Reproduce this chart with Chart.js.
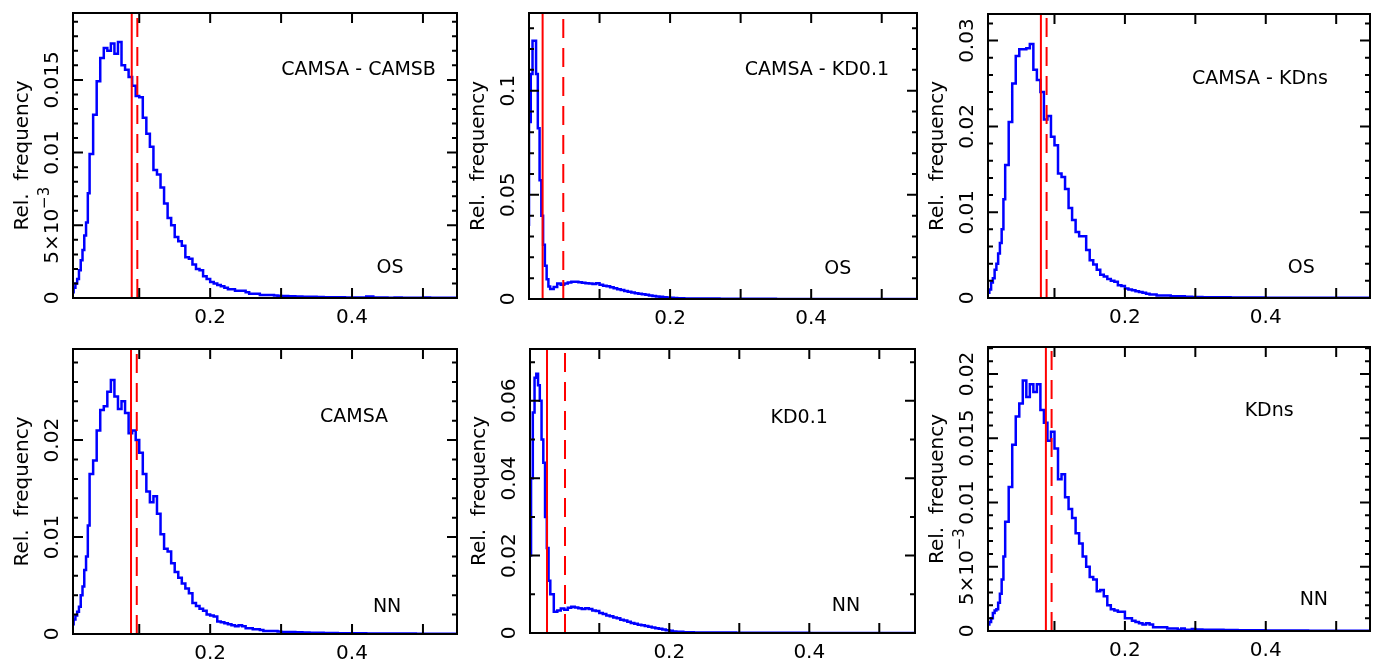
<!DOCTYPE html>
<html>
<head>
<meta charset="utf-8">
<script src="https://cdn.jsdelivr.net/npm/chart.js@4.4.1/dist/chart.umd.min.js"></script>
<style>
  body { margin: 0; background: #fff; }
  #wrap { position: relative; width: 1378px; height: 663px; overflow: hidden; }
  canvas { position: absolute; }
</style>
</head>
<body>
<div id="wrap">
  <canvas id="c1" width="460" height="332" style="left:0px;top:0px"></canvas>
  <canvas id="c2" width="460" height="332" style="left:459px;top:0px"></canvas>
  <canvas id="c3" width="460" height="332" style="left:918px;top:0px"></canvas>
  <canvas id="c4" width="460" height="332" style="left:0px;top:331px"></canvas>
  <canvas id="c5" width="460" height="332" style="left:459px;top:331px"></canvas>
  <canvas id="c6" width="460" height="332" style="left:918px;top:331px"></canvas>
</div>
<script>
// histogram bins: 0.0025 wide up to 0.03, 0.005 up to 0.3, 0.01 up to 0.55
const binEdges = [];
for (let i = 0; i < 12; i++) binEdges.push(+(i * 0.0025).toFixed(4));
for (let i = 0; i < 54; i++) binEdges.push(+(0.03 + i * 0.005).toFixed(4));
for (let i = 0; i <= 25; i++) binEdges.push(+(0.3 + i * 0.01).toFixed(4));

// relative frequency per bin
const camsaCamsbOS = [
  0, 0, 0.0001, 0.0004, 0.0007, 0.0010, 0.0013, 0.0019, 0.0026, 0.0033, 0.0043, 0.0052,
  0.0072, 0.0099, 0.0126, 0.0149, 0.0165, 0.0172, 0.0170, 0.0175, 0.0168, 0.0176,
  0.0160, 0.0157, 0.0152, 0.0146, 0.0139, 0.0138, 0.0124, 0.0113, 0.0104, 0.0088,
  0.0085, 0.0076, 0.0065, 0.0055, 0.0050, 0.0042, 0.0039, 0.0036, 0.0028, 0.0027,
  0.0023, 0.0020, 0.0019, 0.0015, 0.0013, 0.0011, 0.0010, 0.0009, 0.0008, 0.0007,
  0.0006, 0.0006, 0.0005, 0.0005, 0.0005, 0.0004, 0.0003, 0.0003, 0.0003, 0.0002,
  0.0002, 0.0002, 0.0002, 0.00018,
  0.00016, 0.00014, 0.00012, 0.0001, 0.00009, 0.00008, 0.00007, 0.00006, 0.00005, 0.00005,
  0.00004, 0.00004, 0.00004, 0.0001, 0.00003, 0.00003, 0.00002, 0.00003, 0.00002, 0.00002,
  0.00002, 0.00003, 0.00002, 0.00001, 0.00001
];
const camsaKd01OS = [
  0.035, 0.085, 0.108, 0.124, 0.124, 0.108, 0.082, 0.057, 0.040, 0.026, 0.016, 0.0095,
  0.0060, 0.0048, 0.0058, 0.0075, 0.0068, 0.0074, 0.0079, 0.0083, 0.0083, 0.0080,
  0.0078, 0.0076, 0.0074, 0.0072, 0.0076, 0.0068, 0.0064, 0.0061, 0.0056, 0.0052,
  0.0047, 0.0043, 0.0038, 0.0035, 0.0031, 0.0028, 0.0025, 0.0023, 0.0020, 0.0017,
  0.0014, 0.0012, 0.0011, 0.0009, 0.0007, 0.0006, 0.0005, 0.0004, 0.0004, 0.0003,
  0.0003, 0.0003, 0.0003, 0.0002, 0.0002, 0.0002, 0.0002, 0.0002, 0.0002, 0.0001,
  0.0001, 0.0001, 0.0001, 0.0001,
  0.0001, 0.0001, 0.0001, 0.00008, 0.00008, 0.00007, 0.00006, 0.00006, 0.00005, 0.00005,
  0.00005, 0.00004, 0.00004, 0.00004, 0.00003, 0.00003, 0.00003, 0.00002, 0.00002, 0.00002,
  0.00002, 0.00001, 0.00001, 0.00001, 0.00001
];
const camsaKdnsOS = [
  0, 0, 0.0001, 0.0006, 0.0010, 0.0018, 0.0023, 0.0033, 0.0040, 0.0052, 0.0064, 0.0080,
  0.0115, 0.0155, 0.0205, 0.0250, 0.0282, 0.0290, 0.0290, 0.0291, 0.0296, 0.0266,
  0.0254, 0.0240, 0.0208, 0.0212, 0.0188, 0.0178, 0.0145, 0.0141, 0.0127, 0.0105,
  0.0091, 0.0077, 0.0072, 0.0072, 0.0056, 0.0044, 0.0039, 0.0033, 0.0027, 0.0025,
  0.0022, 0.0020, 0.0019, 0.0015, 0.0014, 0.0011, 0.0010, 0.0009, 0.0008, 0.0007,
  0.0006, 0.0005, 0.0004, 0.0004, 0.0003, 0.0003, 0.0003, 0.0003, 0.0002, 0.0002,
  0.0002, 0.0002, 0.00015, 0.00015,
  0.00013, 0.00012, 0.0001, 0.0001, 0.00009, 0.00008, 0.00007, 0.00006, 0.00006, 0.00005,
  0.00005, 0.00004, 0.00004, 0.00004, 0.00003, 0.00003, 0.00003, 0.00003, 0.00002, 0.00002,
  0.00002, 0.00002, 0.00002, 0.00002, 0.00002
];
const camsaNN = [
  0, 0, 0.0003, 0.0010, 0.0015, 0.0019, 0.0023, 0.0028, 0.0040, 0.0049, 0.0066, 0.0080,
  0.0112, 0.0165, 0.0179, 0.0210, 0.0231, 0.0235, 0.0250, 0.0262, 0.0245, 0.0232,
  0.0240, 0.0228, 0.0207, 0.0210, 0.0200, 0.0187, 0.0165, 0.0147, 0.0136, 0.0142,
  0.0124, 0.0103, 0.0088, 0.0085, 0.0073, 0.0064, 0.0058, 0.0052, 0.0047, 0.0042,
  0.0032, 0.0029, 0.0026, 0.0024, 0.0020, 0.0019, 0.0018, 0.0013, 0.0012, 0.0011,
  0.0010, 0.0009, 0.0008, 0.0009, 0.0008, 0.0006, 0.0006, 0.0005, 0.0005, 0.0004,
  0.0003, 0.0003, 0.0003, 0.0003,
  0.00025, 0.0002, 0.0002, 0.00018, 0.00015, 0.00013, 0.00012, 0.0001, 0.0001, 0.00009,
  0.00008, 0.00008, 0.00007, 0.00006, 0.00006, 0.00005, 0.00005, 0.00004, 0.00004, 0.00004,
  0.00003, 0.00003, 0.00003, 0.00002, 0.00002
];
const kd01NN = [
  0.005, 0.020, 0.040, 0.057, 0.066, 0.067, 0.064, 0.060, 0.050, 0.044, 0.030, 0.022,
  0.0135, 0.0100, 0.0055, 0.0058, 0.0063, 0.0060, 0.0065, 0.0068, 0.0066, 0.0064,
  0.0062, 0.0064, 0.0062, 0.0058, 0.0057, 0.0052, 0.0049, 0.0045, 0.0043, 0.0040,
  0.0038, 0.0034, 0.0032, 0.0029, 0.0026, 0.0024, 0.0021, 0.0020, 0.0018, 0.0016,
  0.0014, 0.0012, 0.0011, 0.0009, 0.0007, 0.0006, 0.0004, 0.0003, 0.0003, 0.0002,
  0.0002, 0.0002, 0.00015, 0.00015, 0.0001, 0.0001, 0.0001, 0.0001, 0.0001, 0.0001,
  0.0001, 0.0001, 0.0001, 0.0001,
  0.00008, 0.00008, 0.00007, 0.00006, 0.00006, 0.00005, 0.00005, 0.00005, 0.00004, 0.00004,
  0.00004, 0.00003, 0.00003, 0.00003, 0.00003, 0.00002, 0.00002, 0.00002, 0.00002, 0.00002,
  0.00001, 0.00001, 0.00001, 0.00001, 0.00001
];
const kdnsNN = [
  0, 0, 0.0002, 0.0005, 0.0007, 0.0010, 0.0014, 0.0016, 0.0017, 0.0022, 0.0029, 0.0040,
  0.0058, 0.0085, 0.0112, 0.0145, 0.0167, 0.0177, 0.0195, 0.0182, 0.0192, 0.0186,
  0.0192, 0.0172, 0.0162, 0.0148, 0.0155, 0.0142, 0.0118, 0.0122, 0.0104, 0.0095,
  0.0088, 0.0076, 0.0068, 0.0058, 0.0050, 0.0042, 0.0040, 0.0031, 0.0032, 0.0027,
  0.0020, 0.0017, 0.0016, 0.0015, 0.0015, 0.0010, 0.0010, 0.0008, 0.0007, 0.0006,
  0.0005, 0.0006, 0.0005, 0.0003, 0.0003, 0.0003, 0.0003, 0.0002, 0.0002, 0.0002,
  0.0001, 0.0002, 0.0001, 0.0001,
  0.00015, 0.00012, 0.0001, 0.0001, 0.00009, 0.00008, 0.00007, 0.00006, 0.00005, 0.00005,
  0.00005, 0.00004, 0.00004, 0.00003, 0.00003, 0.00003, 0.00003, 0.00002, 0.00002, 0.00002,
  0.00002, 0.00002, 0.00001, 0.00001, 0.00001
];

const panelSeries = [camsaCamsbOS, camsaKd01OS, camsaKdnsOS, camsaNN, kd01NN, kdnsNN];
const panelTitles = ['CAMSA - CAMSB', 'CAMSA - KD0.1', 'CAMSA - KDns', 'CAMSA', 'KD0.1', 'KDns'];
const panelMethods = ['OS', 'OS', 'OS', 'NN', 'NN', 'NN'];
// red vertical lines (solid and dashed)
const solidLines = [0.0894, 0.0193, 0.0807, 0.0884, 0.0253, 0.0878];
const dashedLines = [0.0973, 0.0486, 0.0888, 0.0965, 0.051, 0.0959];
const xTickLabels = [0.2, 0.4];
const xMajorTicks = [0.1, 0.2, 0.3, 0.4, 0.5];
const yTickLabels = [
  [0, 0.005, 0.01, 0.015],
  [0, 0.05, 0.1],
  [0, 0.01, 0.02, 0.03],
  [0, 0.01, 0.02],
  [0, 0.02, 0.04, 0.06],
  [0, 0.005, 0.01, 0.015, 0.02]
];

// layout of each panel
const panelLayout = [
  { id: 'c1', pad: { left: 11, right: 3, top: 13, bottom: 6 }, xMin: 0.0066, xMax: 0.548, yMax: 0.0196, yMinor: 0.001, titleAt: [0.7435, 0.201], methodAt: [0.8255, 0.896] },
  { id: 'c2', pad: { left: 8, right: 2, top: 13, bottom: 5 }, xMin: 0, xMax: 0.55, yMax: 0.1373, yMinor: 0.01, titleAt: [0.742, 0.2], methodAt: [0.796, 0.895] },
  { id: 'c3', pad: { left: 8, right: 8, top: 14, bottom: 6 }, xMin: 0.0056, xMax: 0.548, yMax: 0.0331, yMinor: 0.002, titleAt: [0.712, 0.229], methodAt: [0.82, 0.895] },
  { id: 'c4', pad: { left: 11, right: 3, top: 18, bottom: 1 }, xMin: 0.0066, xMax: 0.548, yMax: 0.0294, yMinor: 0.002, titleAt: [0.732, 0.239], methodAt: [0.818, 0.905] },
  { id: 'c5', pad: { left: 9, right: 4, top: 18, bottom: 2 }, xMin: 0.001, xMax: 0.551, yMax: 0.0734, yMinor: 0.01, titleAt: [0.699, 0.242], methodAt: [0.821, 0.905] },
  { id: 'c6', pad: { left: 8, right: 8, top: 16, bottom: 4 }, xMin: 0.0056, xMax: 0.548, yMax: 0.0221, yMinor: 0.001, titleAt: [0.736, 0.225], methodAt: [0.853, 0.89] }
];

Chart.defaults.font.family = '"DejaVu Sans", sans-serif';
Chart.defaults.color = '#000';

function fmtY(v) {
  if (v === 0.005) return '5×10⁻³';
  return String(v);
}

// y label drawn in the rotated frame; 5x10^-3 gets a real superscript
function drawYLabel(ctx, v) {
  if (v !== 0.005) {
    ctx.textAlign = 'center';
    ctx.fillText(String(v), 0, 0);
    return;
  }
  ctx.font = '20px "DejaVu Sans"';
  const base = ctx.measureText('5×10').width;
  ctx.font = '15px "DejaVu Sans"';
  const sup = ctx.measureText('−3').width;
  const start = -(base + sup) / 2;
  ctx.textAlign = 'left';
  ctx.font = '20px "DejaVu Sans"';
  ctx.fillText('5×10', start, 0);
  ctx.font = '15px "DejaVu Sans"';
  ctx.fillText('−3', start + base, -8);
  ctx.font = '20px "DejaVu Sans"';
}

// box, inward ticks, rotated y labels and the two notes
const framePlugin = {
  id: 'frame',
  afterDatasetsDraw(chart, args, opts) {
    const { ctx, chartArea: a, scales: { x, y } } = chart;
    ctx.save();
    ctx.strokeStyle = '#000';
    ctx.lineWidth = 2;
    ctx.strokeRect(a.left, a.top, a.right - a.left, a.bottom - a.top);
    ctx.beginPath();
    xMajorTicks.forEach(v => {
      const px = x.getPixelForValue(v);
      ctx.moveTo(px, a.bottom); ctx.lineTo(px, a.bottom - 10);
      ctx.moveTo(px, a.top); ctx.lineTo(px, a.top + 10);
    });
    const n = Math.floor(y.max / opts.minor + 1e-6);
    for (let i = 1; i <= n; i++) {
      const v = i * opts.minor;
      const major = opts.major.some(m => Math.abs(m - v) < opts.minor / 10);
      const len = major ? 10 : 5;
      const py = y.getPixelForValue(v);
      ctx.moveTo(a.left, py); ctx.lineTo(a.left + len, py);
      ctx.moveTo(a.right, py); ctx.lineTo(a.right - len, py);
    }
    ctx.stroke();

    ctx.fillStyle = '#000';
    ctx.font = '20px "DejaVu Sans"';
    ctx.textBaseline = 'middle';
    y.ticks.forEach(t => {
      const py = y.getPixelForValue(t.value);
      ctx.save();
      ctx.translate(a.left - 20, py);
      ctx.rotate(-Math.PI / 2);
      drawYLabel(ctx, t.value);
      ctx.restore();
    });

    ctx.font = '19px "DejaVu Sans"';
    ctx.textAlign = 'center';
    const w = a.right - a.left, h = a.bottom - a.top;
    ctx.fillText(opts.title, a.left + opts.titleAt[0] * w, a.top + opts.titleAt[1] * h);
    ctx.fillText(opts.method, a.left + opts.methodAt[0] * w, a.top + opts.methodAt[1] * h);
    ctx.restore();
  }
};

panelLayout.forEach((p, k) => {
  const vals = panelSeries[k];
  const hist = vals.map((v, i) => ({ x: binEdges[i], y: v }));
  hist.push({ x: binEdges[vals.length], y: vals[vals.length - 1] });

  new Chart(document.getElementById(p.id), {
    type: 'line',
    data: {
      datasets: [
        {
          label: 'solid',
          data: [{ x: solidLines[k], y: 0 }, { x: solidLines[k], y: p.yMax }],
          borderColor: '#ff0000',
          borderWidth: 2,
          pointRadius: 0
        },
        {
          label: 'dashed',
          data: [{ x: dashedLines[k], y: 0 }, { x: dashedLines[k], y: p.yMax }],
          borderColor: '#ff0000',
          borderWidth: 2,
          borderDash: [19, 10],
          pointRadius: 0
        },
        {
          label: panelTitles[k],
          data: hist,
          borderColor: '#0000ff',
          borderWidth: 2.5,
          stepped: 'after',
          pointRadius: 0,
          fill: false
        }
      ]
    },
    options: {
      responsive: false,
      animation: false,
      events: [],
      layout: { padding: p.pad },
      plugins: {
        legend: { display: false },
        tooltip: { enabled: false },
        frame: {
          title: panelTitles[k],
          method: panelMethods[k],
          titleAt: p.titleAt,
          methodAt: p.methodAt,
          major: yTickLabels[k],
          minor: p.yMinor
        }
      },
      scales: {
        x: {
          type: 'linear',
          min: p.xMin,
          max: p.xMax,
          grid: { display: false, drawTicks: false },
          border: { display: false },
          ticks: { font: { size: 20 }, padding: 8, maxRotation: 0, autoSkip: false, callback: v => String(v) },
          afterBuildTicks: s => { s.ticks = xTickLabels.map(v => ({ value: v })); },
          afterFit: s => { s.height = 28; }
        },
        y: {
          type: 'linear',
          min: 0,
          max: p.yMax,
          grid: { display: false, drawTicks: false },
          border: { display: false },
          ticks: { display: false, callback: v => fmtY(v) },
          title: { display: true, text: 'Rel.  frequency', font: { size: 20 }, padding: 0 },
          afterBuildTicks: s => { s.ticks = yTickLabels[k].map(v => ({ value: v })); },
          afterFit: s => { s.width = 62; }
        }
      }
    },
    plugins: [framePlugin]
  });
});
</script>
</body>
</html>
